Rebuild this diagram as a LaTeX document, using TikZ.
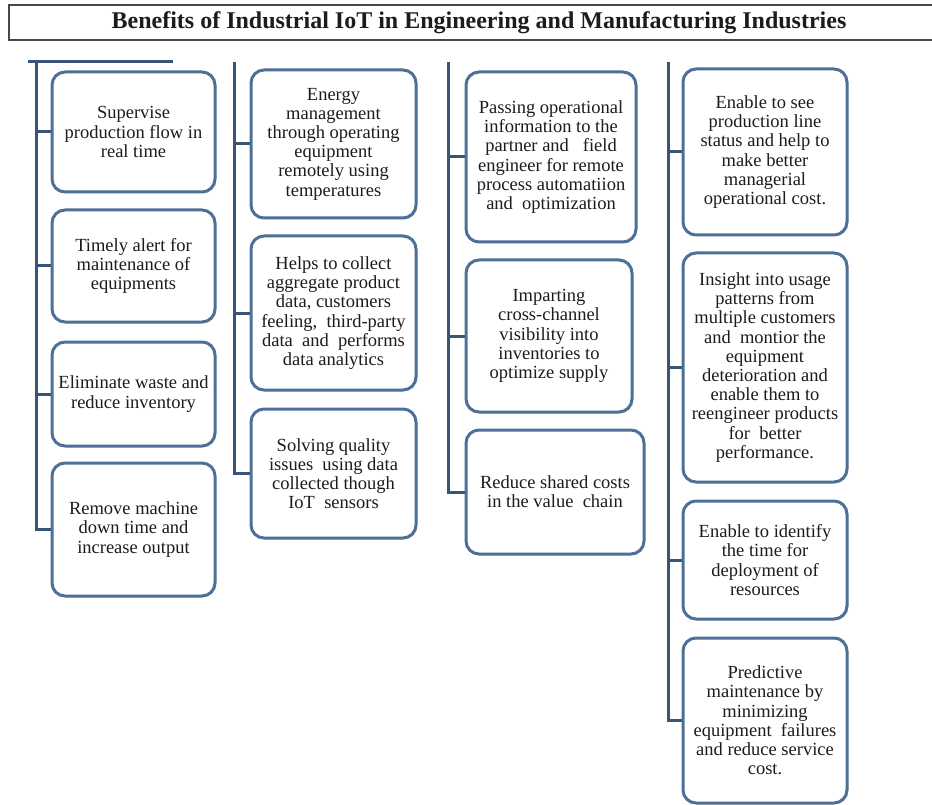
\documentclass[tikz,border=0pt]{standalone}
\usepackage{fontspec}
\setmainfont{Liberation Serif}
\usetikzlibrary{shadows}

\definecolor{boxblue}{RGB}{76,112,152}
\definecolor{trunkblue}{RGB}{56,84,118}
\definecolor{inkgray}{RGB}{28,28,28}

\tikzset{
  benefit/.style={draw=boxblue, line width=3pt, rounded corners=13pt,
    fill=white, align=center, text=inkgray, inner sep=0pt,
    font=\fontsize{18.5}{19.2}\selectfont,
    drop shadow={shadow xshift=1.5pt, shadow yshift=-1.5pt, opacity=0.12}},
  trunk/.style={draw=trunkblue, line width=3pt},
}

\begin{document}
\begin{tikzpicture}[x=1pt, y=-1pt]
  \useasboundingbox (0,0) rectangle (932,805);

  % ---- title bar ----
  \draw[line width=2.2pt, draw=black!72] (9,5) rectangle (945,40);
  \node[font=\bfseries\fontsize{24}{26}\selectfont, text=inkgray] (title) at (479,23)
    {Benefits of Industrial IoT in Engineering and Manufacturing Industries};

  % ---- column 1 ----
  \node[benefit, minimum width=163pt, minimum height=120pt] (a1) at (133.5,132)
    {Supervise\\production flow in\\real time};
  \node[benefit, minimum width=163pt, minimum height=112pt] (a2) at (133.5,266)
    {Timely alert for\\maintenance of\\equipments};
  \node[benefit, minimum width=163pt, minimum height=104pt] (a3) at (133.5,394)
    {Eliminate waste and\\reduce inventory};
  \node[benefit, minimum width=163pt, minimum height=133pt] (a4) at (133.5,529.5)
    {Remove machine\\down time and\\increase output};
  \coordinate (atop) at (36,62);
  \draw[trunk] (28,62) -- (173,62);
  \draw[trunk] (atop) |- (a4.west);
  \foreach \n in {a1,a2,a3}
    \draw[trunk] (\n.west -| atop) -- (\n.west);

  % ---- column 2 ----
  \node[benefit, minimum width=165pt, minimum height=148pt] (b1) at (333.5,144)
    {Energy\\management\\through operating\\equipment\\remotely using\\temperatures};
  \node[benefit, minimum width=165pt, minimum height=154pt] (b2) at (333.5,313)
    {Helps to collect\\aggregate product\\data, customers\\feeling, \ third-party\\data \ and \ performs\\data analytics};
  \node[benefit, minimum width=165pt, minimum height=129pt] (b3) at (333.5,473.5)
    {Solving quality\\issues \ using data\\collected though\\IoT \ sensors};
  \coordinate (btop) at (234,62);
  \draw[trunk] (btop) |- (b3.west);
  \foreach \n in {b1,b2}
    \draw[trunk] (\n.west -| btop) -- (\n.west);

  % ---- column 3 ----
  \node[benefit, minimum width=170pt, minimum height=170pt] (c1) at (551,157)
    {Passing operational\\information to the\\partner and \ \ field\\engineer for remote\\process automatiion\\and \ optimization};
  \node[benefit, minimum width=166pt, minimum height=152pt] (c2) at (549,336)
    {Imparting\\cross-channel\\visibility into\\inventories to\\optimize supply};
  \node[benefit, minimum width=178pt, minimum height=124pt] (c3) at (555,492)
    {Reduce shared costs\\in the value \ chain};
  \coordinate (ctop) at (448,62);
  \draw[trunk] (ctop) |- (c3.west);
  \foreach \n in {c1,c2}
    \draw[trunk] (\n.west -| ctop) -- (\n.west);

  % ---- column 4 ----
  \node[benefit, minimum width=164pt, minimum height=166pt] (d1) at (765,152)
    {Enable to see\\production line\\status and help to\\make better\\managerial\\operational cost.};
  \node[benefit, minimum width=164pt, minimum height=229pt] (d2) at (765,367.5)
    {Insight into usage\\patterns from\\multiple customers\\and \ montior the\\equipment\\deterioration and\\enable them to\\reengineer products\\for \ better\\performance.};
  \node[benefit, minimum width=164pt, minimum height=118pt] (d3) at (765,560)
    {Enable to identify\\the time for\\deployment of\\resources};
  \node[benefit, minimum width=164pt, minimum height=165pt] (d4) at (765,720.5)
    {Predictive\\maintenance by\\minimizing\\equipment \ failures\\and reduce service\\cost.};
  \coordinate (dtop) at (668,62);
  \draw[trunk] (dtop) |- (d4.west);
  \foreach \n in {d1,d2,d3}
    \draw[trunk] (\n.west -| dtop) -- (\n.west);
\end{tikzpicture}
\end{document}
